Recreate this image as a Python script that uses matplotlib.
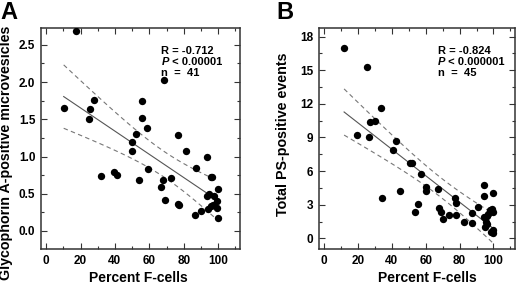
import numpy as np
import matplotlib
matplotlib.use("Agg")
import matplotlib.pyplot as plt
from matplotlib.ticker import MultipleLocator, FormatStrFormatter

plt.rcParams['font.family'] = ['Liberation Sans', 'DejaVu Sans']
plt.rcParams['font.weight'] = 'bold'

# Panel A: percent F-cells vs glycophorin A-positive microvesicles
a_fcells = [17.6, 10.2, 25.3, 24.7, 28.0, 32.0, 39.6, 41.1, 49.8, 50.2,
            52.1, 54.2, 56.0, 56.0, 58.5, 59.1, 68.7, 66.8, 67.8, 69.1,
            72.4, 76.8, 76.5, 77.5, 81.3, 86.9, 86.5, 90.0, 93.8, 93.6,
            94.8, 95.8, 96.7, 94.2, 95.8, 97.7, 97.1, 99.8, 99.5, 99.5, 99.8]
a_vesicles = [2.69, 1.65, 1.64, 1.51, 1.76, 0.74, 0.79, 0.75, 1.19, 1.08,
              1.30, 0.68, 1.75, 1.52, 1.38, 0.83, 2.03, 0.59, 0.69, 0.41,
              0.71, 1.29, 0.36, 0.35, 1.07, 0.84, 0.21, 0.27, 0.99, 0.47,
              0.49, 0.73, 0.73, 0.30, 0.33, 0.47, 0.35, 0.56, 0.40, 0.31, 0.18]
a_stats = ["R = -0.712", "P", " < 0.00001", "n  =  41"]

# Panel B: percent F-cells vs total PS-positive events
b_fcells = [11.8, 25.1, 19.6, 26.5, 27.1, 29.8, 33.4, 34.3, 40.8, 42.6,
            45.1, 50.6, 52.0, 57.3, 55.3, 53.5, 60.2, 60.2, 67.3, 68.0,
            69.2, 70.2, 73.5, 77.5, 78.1, 78.1, 82.4, 87.3, 87.6, 90.6,
            94.5, 94.5, 100.0, 94.1, 96.1, 98.0, 99.0, 100.0, 95.7, 96.1,
            99.6, 100.0, 97.0, 95.0, 98.5]
b_events = [16.96, 15.32, 9.22, 9.07, 10.41, 10.47, 11.66, 3.57, 7.88, 8.72,
            4.22, 6.70, 6.70, 5.71, 3.06, 2.35, 4.55, 4.25, 4.40, 2.73,
            2.32, 1.72, 2.08, 3.63, 3.12, 2.08, 1.43, 1.39, 2.23, 2.82,
            4.76, 3.78, 4.02, 1.93, 2.02, 2.53, 2.64, 2.35, 1.48, 1.25,
            0.74, 0.50, 2.20, 1.05, 0.60]
b_stats = ["R = -0.824", "P", " < 0.000001", "n  =  45"]


def fit_band(x, y, t=2.7):
    # least squares line with a confidence band around it
    x = np.asarray(x, float)
    y = np.asarray(y, float)
    n = len(x)
    slope, icpt = np.polyfit(x, y, 1)
    xs = np.linspace(x.min(), x.max(), 100)
    ys = icpt + slope * xs
    resid = y - (icpt + slope * x)
    s = np.sqrt(np.sum(resid ** 2) / (n - 2))
    sxx = np.sum((x - x.mean()) ** 2)
    half = t * s * np.sqrt(1.0 / n + (xs - x.mean()) ** 2 / sxx)
    return xs, ys, ys - half, ys + half


def panel(ax, x, y, stats, ylabel, ylim, ymajor, yminor, xlab_x, ylab_xy):
    xs, ys, lo, hi = fit_band(x, y)
    ax.plot(xs, ys, color='#555555', lw=0.8, zorder=2)
    ax.plot(xs, lo, color='#777777', lw=0.8, ls=(0, (4, 3)), zorder=2)
    ax.plot(xs, hi, color='#777777', lw=0.8, ls=(0, (4, 3)), zorder=2)
    ax.scatter(x, y, s=28, color='black', zorder=3, linewidths=0)
    ax.set_xlim(-3, 112.7)
    ax.set_ylim(*ylim)
    ax.xaxis.set_major_locator(MultipleLocator(20))
    ax.xaxis.set_minor_locator(MultipleLocator(10))
    ax.yaxis.set_major_locator(MultipleLocator(ymajor))
    ax.yaxis.set_minor_locator(MultipleLocator(yminor))
    ax.tick_params(which='both', direction='in', top=True, right=True,
                   labelsize=8.5, width=0.8, color='#333333', pad=4)
    ax.tick_params(which='major', length=4)
    ax.tick_params(which='minor', length=2.5)
    for sp in ax.spines.values():
        sp.set_linewidth(1.1)
        sp.set_color('#333333')
    ax.set_xlabel('Percent F-cells', fontsize=10, fontweight='bold')
    ax.xaxis.set_label_coords(xlab_x, -0.1)
    ax.set_ylabel(ylabel, fontsize=10.3, fontweight='bold')
    ax.yaxis.set_label_coords(*ylab_xy)
    tx = 0.605
    ax.text(tx, 0.895, stats[0], transform=ax.transAxes, fontsize=8, va='center')
    t = ax.text(tx, 0.845, stats[1], transform=ax.transAxes, fontsize=8,
                va='center', style='italic')
    ax.annotate(stats[2], xycoords=t, xy=(1, 0.5), va='center', fontsize=8)
    ax.text(tx, 0.795, stats[3], transform=ax.transAxes, fontsize=8, va='center')


fig = plt.figure(figsize=(5.2, 2.85), dpi=100)
ax1 = fig.add_axes([0.0788, 0.1253, 0.3827, 0.7775])
ax2 = fig.add_axes([0.6135, 0.1253, 0.3769, 0.7775])

panel(ax1, a_fcells, a_vesicles, a_stats, 'Glycophorin A-positive microvesicles',
      (-0.246, 2.73), 0.5, 0.25, 0.49, (-0.143, 0.435))
panel(ax2, b_fcells, b_events, b_stats, 'Total PS-positive events',
      (-0.98, 18.8), 3, 1.5, 0.551, (-0.15, 0.52))
ax1.yaxis.set_major_formatter(FormatStrFormatter('%.1f'))

fig.text(0.0, 0.995, 'A', fontsize=17, fontweight='bold', va='top', ha='left')
fig.text(0.532, 0.995, 'B', fontsize=17, fontweight='bold', va='top', ha='left')

fig.savefig('out.png', dpi=100)
